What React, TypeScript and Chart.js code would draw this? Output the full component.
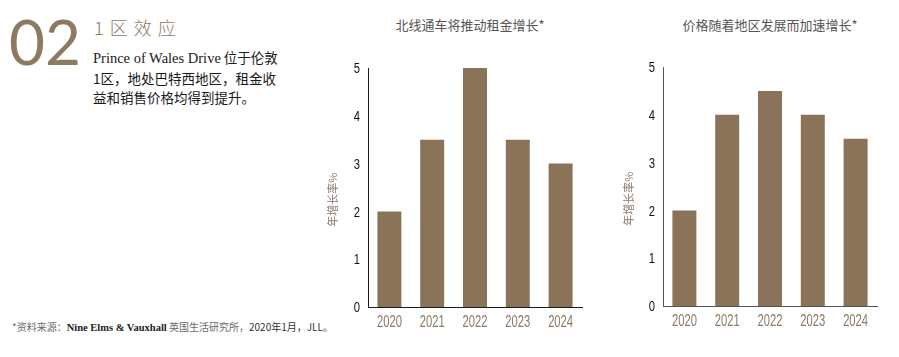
import React, { useEffect, useRef } from "react";
import { Chart, registerables } from "chart.js";

Chart.register(...registerables);

const years = ["2020", "2021", "2022", "2023", "2024"];
const rentGrowth = [2, 3.5, 5, 3.5, 3];
const priceGrowth = [2, 4, 4.5, 4, 3.5];
const yTickValues = [0, 1, 2, 3, 4, 5];
const leftTitle = "北线通车将推动租金增长*";
const rightTitle = "价格随着地区发展而加速增长*";
const yAxisTitle = "年增长率%";

const BAR = "#8a7358";
const BROWN = "#8c7a62";
const X_TICK_FONT = "16px 'Liberation Sans', Roboto, 'DejaVu Sans', sans-serif";
const Y_TICK_FONT = "15px 'Liberation Sans', Roboto, 'DejaVu Sans', sans-serif";
const X_CONDENSE = 0.7;
const Y_CONDENSE = 0.75;
const X_LABEL_GAP = 16;
const Y_LABEL_GAP = 8;
const CJK = "'Noto Sans CJK SC', 'Noto Sans', sans-serif";

// Draws the scale tick labels in a condensed style (no condensed face is installed)
const condensedTicks = {
  id: "condensedTicks",
  afterDraw(chart: any) {
    const ctx = chart.ctx as CanvasRenderingContext2D;
    const xs = chart.scales.x;
    const ys = chart.scales.y;
    ctx.save();
    ctx.font = X_TICK_FONT;
    ctx.textBaseline = "middle";
    ctx.fillStyle = "#8a7a6a";
    ctx.textAlign = "center";
    xs.ticks.forEach((t: any, i: number) => {
      const px = xs.getPixelForTick(i);
      ctx.save();
      ctx.translate(px, xs.top + X_LABEL_GAP);
      ctx.scale(X_CONDENSE, 1);
      ctx.fillText(String(xs.getLabelForValue(t.value)), 0, 0);
      ctx.restore();
    });
    ctx.font = Y_TICK_FONT;
    ctx.fillStyle = "#111";
    ctx.textAlign = "right";
    ys.ticks.forEach((t: any) => {
      const py = ys.getPixelForValue(t.value);
      ctx.save();
      ctx.translate(ys.right - Y_LABEL_GAP, py + 1);
      ctx.scale(Y_CONDENSE, 1);
      ctx.fillText(String(t.value), 0, 0);
      ctx.restore();
    });
    ctx.restore();
  },
};

type BarProps = {
  values: number[];
  left: number;
  axisColor: string;
  padTop: number;
  height: number;
  titlePad: number;
};

function BarChart({ values, left, axisColor, padTop, height, titlePad }: BarProps) {
  const ref = useRef<HTMLCanvasElement | null>(null);
  useEffect(() => {
    if (!ref.current) return;
    const chart = new Chart(ref.current, {
      type: "bar",
      data: {
        labels: years,
        datasets: [
          {
            data: values,
            backgroundColor: BAR,
            borderWidth: 0,
            barPercentage: 0.56,
            categoryPercentage: 1,
          },
        ],
      },
      plugins: [condensedTicks],
      options: {
        animation: false,
        responsive: false,
        devicePixelRatio: 1,
        layout: { padding: { top: padTop, right: 18, left: 0, bottom: 0 } },
        plugins: {
          legend: { display: false },
          tooltip: { enabled: false },
          title: { display: false },
        },
        scales: {
          x: {
            type: "category",
            offset: true,
            grid: { display: false, drawTicks: false },
            border: { display: true, color: axisColor, width: 1 },
            ticks: { display: false },
            afterFit: (s: any) => {
              s.height = 38;
            },
          },
          y: {
            min: 0,
            max: 5,
            grid: { display: false, drawTicks: false },
            border: { display: true, color: axisColor, width: 1 },
            ticks: { display: false },
            afterBuildTicks: (s: any) => {
              s.ticks = yTickValues.map((v) => ({ value: v }));
            },
            title: {
              display: true,
              text: yAxisTitle + "\u3000\u3000 ",
              color: "#8a7a72",
              font: { family: CJK, size: 11 },
              padding: { top: titlePad, bottom: 0 },
            },
            afterFit: (s: any) => {
              s.width = 58;
            },
          },
        },
      } as any,
    });
    return () => chart.destroy();
  }, []);
  return (
    <canvas
      ref={ref}
      width={290}
      height={height}
      style={{ position: "absolute", left, top: 0, width: 290, height }}
    />
  );
}

export default function App() {
  return (
    <div
      style={{
        position: "absolute",
        left: 0,
        top: 0,
        width: 899,
        height: 357,
        background: "#fff",
        overflow: "hidden",
      }}
    >
      <div
        style={{
          position: "absolute",
          left: 9,
          top: 10,
          fontFamily: "Lato, 'Open Sans', sans-serif",
          fontWeight: 400,
          fontSize: 62,
          lineHeight: "62px",
          color: BROWN,
        }}
      >
        02
      </div>
      <div
        style={{
          position: "absolute",
          left: 94,
          top: 18,
          fontFamily: CJK,
          fontWeight: 300,
          fontSize: 18,
          lineHeight: "18px",
          letterSpacing: 6,
          color: BROWN,
          whiteSpace: "nowrap",
        }}
      >
        1区效应
      </div>
      <div
        style={{
          position: "absolute",
          left: 93,
          top: 48,
          fontFamily: CJK,
          fontSize: 13.5,
          lineHeight: "19.5px",
          color: "#1a1a1a",
          whiteSpace: "nowrap",
        }}
      >
        <span style={{ fontFamily: "'Liberation Serif', serif", fontSize: 14.5 }}>
          Prince of Wales Drive
        </span>{" "}
        位于伦敦
        <br />
        1区，地处巴特西地区，租金收
        <br />
        益和销售价格均得到提升。
      </div>
      <div
        style={{
          position: "absolute",
          left: 12,
          top: 320,
          fontFamily: CJK,
          fontSize: 10,
          lineHeight: "14px",
          color: "#6a6a6a",
          whiteSpace: "nowrap",
        }}
      >
        *资料来源：
        <span style={{ fontFamily: "'Liberation Serif', serif", fontWeight: 700, color: "#222", fontSize: 10.5 }}>
          Nine Elms &amp; Vauxhall
        </span>{" "}
        英国生活研究所，
        <span style={{ color: "#333" }}>2020年1月，JLL。</span>
      </div>
      <div
        style={{
          position: "absolute",
          left: 370,
          width: 200,
          top: 16,
          textAlign: "center",
          fontFamily: CJK,
          fontSize: 13,
          lineHeight: "18px",
          color: "#555",
          whiteSpace: "nowrap",
        }}
      >
        {leftTitle}
      </div>
      <div
        style={{
          position: "absolute",
          left: 670,
          width: 200,
          top: 16,
          textAlign: "center",
          fontFamily: CJK,
          fontSize: 13,
          lineHeight: "18px",
          color: "#555",
          whiteSpace: "nowrap",
        }}
      >
        {rightTitle}
      </div>
      <BarChart values={rentGrowth} left={310} axisColor="#1a1a1a" padTop={68} height={345} titlePad={16.4} />
      <BarChart values={priceGrowth} left={605} axisColor="#555" padTop={67} height={344} titlePad={17.4} />
    </div>
  );
}
